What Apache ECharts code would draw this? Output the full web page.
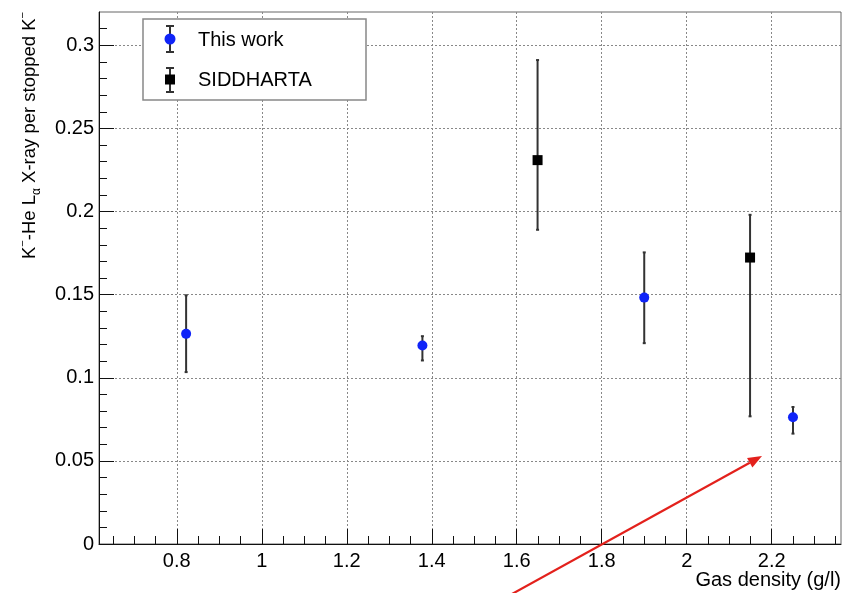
<!DOCTYPE html>
<html>
<head>
<meta charset="utf-8">
<script src="https://cdn.jsdelivr.net/npm/echarts@6/dist/echarts.min.js"></script>
<style>
  html, body { margin: 0; padding: 0; background: #fff; }
  #chart { width: 844px; height: 593px; }
</style>
</head>
<body>
<div id="chart"></div>
<script>
// data: [density, value] and [density, low, high]
var thisWork = [[0.822, 0.1264], [1.378, 0.1194], [1.900, 0.1482], [2.250, 0.0762]];
var thisWorkErr = [[0.822, 0.1034, 0.1496], [1.378, 0.1104, 0.1250], [1.900, 0.1208, 0.1754], [2.250, 0.0664, 0.0824]];
var siddharta = [[1.649, 0.2309], [2.149, 0.1723]];
var siddhartaErr = [[1.649, 0.1890, 0.2911], [2.149, 0.0768, 0.1980]];

// tick positions
var xMajor = [0.8, 1, 1.2, 1.4, 1.6, 1.8, 2, 2.2];
var xMinor = [0.65, 0.7, 0.75, 0.85, 0.9, 0.95, 1.05, 1.1, 1.15, 1.25, 1.3, 1.35, 1.45, 1.5, 1.55,
              1.65, 1.7, 1.75, 1.85, 1.9, 1.95, 2.05, 2.1, 2.15, 2.25, 2.3, 2.35];
var yMajor = [0, 0.05, 0.1, 0.15, 0.2, 0.25, 0.3];
var yMinor = [0.01, 0.02, 0.03, 0.04, 0.06, 0.07, 0.08, 0.09, 0.11, 0.12, 0.13, 0.14,
              0.16, 0.17, 0.18, 0.19, 0.21, 0.22, 0.23, 0.24, 0.26, 0.27, 0.28, 0.29, 0.31];

var FONT = '"Liberation Sans", Arial, Helvetica, sans-serif';
var BLUE = '#1024f8';
var RED = '#e3211c';
var INK = '#000';

var chart = echarts.init(document.getElementById('chart'));

// error bar drawn through the axes scales
function errorBar(params, api) {
    var x = api.value(0);
    var lo = api.coord([x, api.value(1)]);
    var hi = api.coord([x, api.value(2)]);
    var c = 1.5;
    var st = { stroke: '#333', lineWidth: 2 };
    return {
        type: 'group',
        children: [
            { type: 'line', shape: { x1: lo[0], y1: lo[1], x2: hi[0], y2: hi[1] }, style: st },
            { type: 'line', shape: { x1: lo[0] - c, y1: lo[1], x2: lo[0] + c, y2: lo[1] }, style: st },
            { type: 'line', shape: { x1: hi[0] - c, y1: hi[1], x2: hi[0] + c, y2: hi[1] }, style: st }
        ]
    };
}

// arrow annotation (pixel positions)
var arrowStart = [512, 594];
var arrowTip = [762, 456];
var dx = arrowTip[0] - arrowStart[0], dy = arrowTip[1] - arrowStart[1];
var len = Math.sqrt(dx * dx + dy * dy);
var ux = dx / len, uy = dy / len;
var headL = 14, headW = 5.5;
var bx = arrowTip[0] - ux * headL, by = arrowTip[1] - uy * headL;

var option = {
    animation: false,
    backgroundColor: '#fff',
    grid: {
        left: 99, right: 3, top: 12, bottom: 49,
        show: true, borderColor: '#666', borderWidth: 1, backgroundColor: 'transparent'
    },
    xAxis: [{
        type: 'value', min: 0.617, max: 2.363,
        axisLine: { lineStyle: { color: '#111', width: 1 } },
        axisTick: { inside: true, length: 15, customValues: xMajor, lineStyle: { color: '#111' } },
        axisLabel: { customValues: xMajor, margin: 7, fontSize: 20, color: INK, fontFamily: FONT },
        splitLine: { show: true, lineStyle: { type: [2, 2], color: '#888' } }
    }, {
        type: 'value', min: 0.617, max: 2.363, position: 'bottom',
        axisLine: { show: false },
        axisTick: { inside: true, length: 8, customValues: xMinor, lineStyle: { color: '#111' } },
        axisLabel: { show: false },
        splitLine: { show: false }
    }],
    yAxis: [{
        type: 'value', min: 0, max: 0.32, interval: 0.05,
        axisLine: { show: true, lineStyle: { color: '#111', width: 1 } },
        axisTick: { show: true, inside: true, length: 15, customValues: yMajor, lineStyle: { color: '#111' } },
        axisLabel: { customValues: yMajor, margin: 5, fontSize: 20, color: INK, fontFamily: FONT },
        splitLine: { show: true, lineStyle: { type: [2, 2], color: '#888' } }
    }, {
        type: 'value', min: 0, max: 0.32, position: 'left',
        axisLine: { show: false },
        axisTick: { show: true, inside: true, length: 8, customValues: yMinor, lineStyle: { color: '#111' } },
        axisLabel: { show: false },
        splitLine: { show: false }
    }],
    series: [{
        name: 'This work err', type: 'custom', renderItem: errorBar,
        encode: { x: 0, y: [1, 2] }, data: thisWorkErr, z: 2
    }, {
        name: 'SIDDHARTA err', type: 'custom', renderItem: errorBar,
        encode: { x: 0, y: [1, 2] }, data: siddhartaErr, z: 2
    }, {
        name: 'This work', type: 'scatter', symbol: 'circle', symbolSize: 10,
        itemStyle: { color: BLUE, opacity: 1 }, data: thisWork, z: 3
    }, {
        name: 'SIDDHARTA', type: 'scatter', symbol: 'rect', symbolSize: 10,
        itemStyle: { color: '#000', opacity: 1 }, data: siddharta, z: 3
    }],
    graphic: [
        // legend box
        { type: 'rect', z: 100, shape: { x: 143, y: 19, width: 223, height: 81 },
          style: { fill: '#fff', stroke: '#888', lineWidth: 1.5 } },
        { type: 'line', z: 101, shape: { x1: 170, y1: 26, x2: 170, y2: 52 }, style: { stroke: '#333', lineWidth: 2 } },
        { type: 'line', z: 101, shape: { x1: 166, y1: 26, x2: 174, y2: 26 }, style: { stroke: '#333', lineWidth: 2 } },
        { type: 'line', z: 101, shape: { x1: 166, y1: 52, x2: 174, y2: 52 }, style: { stroke: '#333', lineWidth: 2 } },
        { type: 'circle', z: 102, shape: { cx: 170, cy: 39, r: 5.5 }, style: { fill: BLUE } },
        { type: 'text', z: 102, x: 198, y: 40,
          style: { text: 'This work', fontSize: 20, fontFamily: FONT, fill: INK, verticalAlign: 'middle' } },
        { type: 'line', z: 101, shape: { x1: 170, y1: 68, x2: 170, y2: 92 }, style: { stroke: '#333', lineWidth: 2 } },
        { type: 'line', z: 101, shape: { x1: 166, y1: 68, x2: 174, y2: 68 }, style: { stroke: '#333', lineWidth: 2 } },
        { type: 'line', z: 101, shape: { x1: 166, y1: 92, x2: 174, y2: 92 }, style: { stroke: '#333', lineWidth: 2 } },
        { type: 'rect', z: 102, shape: { x: 165, y: 74.5, width: 10, height: 10 }, style: { fill: '#000' } },
        { type: 'text', z: 102, x: 198, y: 80,
          style: { text: 'SIDDHARTA', fontSize: 20, fontFamily: FONT, fill: INK, verticalAlign: 'middle' } },
        // axis titles
        { type: 'text', z: 50, x: 841, y: 580,
          style: { text: 'Gas density (g/l)', fontSize: 20, fontFamily: FONT, fill: INK,
                   align: 'right', verticalAlign: 'middle' } },
        { type: 'text', z: 50, x: 30, y: 12, rotation: Math.PI / 2,
          style: {
              text: '{n|K}{s|−}{n|-He L}{b|α}{n| X-ray per stopped K}{s|−}',
              align: 'right', verticalAlign: 'middle', fill: INK,
              rich: {
                  n: { fontSize: 18.5, fontFamily: FONT, fill: INK, lineHeight: 26 },
                  s: { fontSize: 11, fontFamily: FONT, fill: INK, verticalAlign: 'top', lineHeight: 12 },
                  b: { fontSize: 12, fontFamily: FONT, fill: INK, verticalAlign: 'bottom', lineHeight: 12 }
              }
          } },
        // red arrow
        { type: 'line', z: 60, shape: { x1: arrowStart[0], y1: arrowStart[1], x2: bx, y2: by },
          style: { stroke: RED, lineWidth: 2.2 } },
        { type: 'polygon', z: 60,
          shape: { points: [arrowTip, [bx - uy * headW, by + ux * headW], [bx + uy * headW, by - ux * headW]] },
          style: { fill: RED } }
    ]
};

chart.setOption(option);
</script>
</body>
</html>
